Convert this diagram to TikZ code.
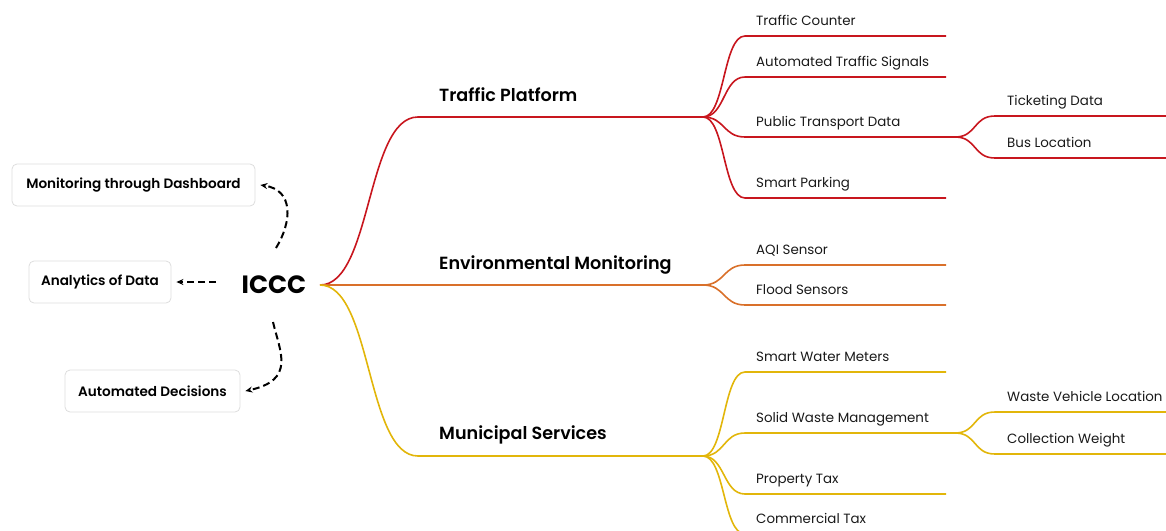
\documentclass[tikz,border=0pt]{standalone}
\usepackage{fontspec}
\setmainfont{Poppins}
\newfontfamily\semifont{Poppins SemiBold}
\usepackage{tikz}
\usetikzlibrary{arrows.meta}
\definecolor{trafred}{HTML}{C8161E}
\definecolor{envorange}{HTML}{D9702A}
\definecolor{muniyellow}{HTML}{E2B60A}
\definecolor{boxgray}{HTML}{DDDDDD}

\begin{document}
\begin{tikzpicture}[x=1pt,y=-1pt,
    branch/.style={line width=1.6pt},
    leaf/.style={anchor=base west,inner sep=0pt,text=black!90,font=\fontsize{13.4}{15}\selectfont},
    topic/.style={anchor=base west,inner sep=0pt,font=\semifont\fontsize{17.6}{20}\selectfont},
    usebox/.style={draw=boxgray,rounded corners=5pt,line width=0.8pt,minimum height=42pt,font=\semifont\fontsize{13.6}{15}\selectfont},
    dasharrow/.style={-{Stealth[length=7pt,width=6pt]},line width=2pt,dash pattern=on 7pt off 4pt}]
    \useasboundingbox (0,0) rectangle (1166,530);

    % Centre and its outputs
    \node[font=\bfseries\fontsize{25}{29}\selectfont] (iccc) at (274,285) {ICCC};
    \node[usebox,minimum width=243pt] (dash) at (133.5,185) {Monitoring through Dashboard};
    \node[usebox,minimum width=142pt] (analytics) at (100,282) {Analytics of Data};
    \node[usebox,minimum width=175pt] (decisions) at (152.5,391) {Automated Decisions};

    \coordinate (up) at (276,248);
    \coordinate (left) at (216,282);
    \coordinate (down) at (273,322);
    \draw[dasharrow] (up) .. controls (292,222) and (294,190) .. ([xshift=5pt]dash.east);
    \draw[dasharrow] (left) -- ([xshift=5pt]analytics.east);
    \draw[dasharrow] (down) .. controls (280,352) and (296,380) .. ([xshift=5pt]decisions.east);

    % Main branches
    \coordinate (root) at (320,285);
    \coordinate (tpBend) at (418,117);
    \coordinate (tpHub) at (703,117);
    \coordinate (emHub) at (703,285);
    \coordinate (msBend) at (418,456);
    \coordinate (msHub) at (703,456);
    \draw[branch,trafred] (root) .. controls (372,285) and (366,117) .. (tpBend) -- (tpHub);
    \draw[branch,envorange] (root) -- (emHub);
    \draw[branch,muniyellow] (root) .. controls (372,285) and (366,456) .. (msBend) -- (msHub);
    \node[topic] (tp) at (439,101) {Traffic Platform};
    \node[topic] (em) at (439,269) {Environmental Monitoring};
    \node[topic] (ms) at (439,439) {Municipal Services};

    % Traffic Platform
    \coordinate (tc1) at (745,36);  \coordinate (tc2) at (946,36);
    \coordinate (ats1) at (745,77); \coordinate (ats2) at (946,77);
    \coordinate (ptd1) at (745,137); \coordinate (ptd2) at (955,137);
    \coordinate (sp1) at (745,198); \coordinate (sp2) at (946,198);
    \draw[branch,trafred] (tpHub) .. controls +(22,0) and +(-22,0) .. (tc1) -- (tc2);
    \draw[branch,trafred] (tpHub) .. controls +(22,0) and +(-22,0) .. (ats1) -- (ats2);
    \draw[branch,trafred] (tpHub) .. controls +(22,0) and +(-22,0) .. (ptd1) -- (ptd2);
    \draw[branch,trafred] (tpHub) .. controls +(22,0) and +(-22,0) .. (sp1) -- (sp2);
    \node[leaf] (tc) at (756,25) {Traffic Counter};
    \node[leaf] (ats) at (756,66) {Automated Traffic Signals};
    \node[leaf] (ptd) at (756,126) {Public Transport Data};
    \node[leaf] (sp) at (756,187) {Smart Parking};

    \coordinate (td1) at (995,116); \coordinate (td2) at (1166,116);
    \coordinate (bl1) at (995,158); \coordinate (bl2) at (1166,158);
    \draw[branch,trafred] (ptd2) .. controls +(22,0) and +(-22,0) .. (td1) -- (td2);
    \draw[branch,trafred] (ptd2) .. controls +(22,0) and +(-22,0) .. (bl1) -- (bl2);
    \node[leaf] (td) at (1007,105) {Ticketing Data};
    \node[leaf] (bl) at (1007,147) {Bus Location};

    % Environmental Monitoring
    \coordinate (aqi1) at (745,265); \coordinate (aqi2) at (946,265);
    \coordinate (fs1) at (745,305); \coordinate (fs2) at (946,305);
    \draw[branch,envorange] (emHub) .. controls +(22,0) and +(-22,0) .. (aqi1) -- (aqi2);
    \draw[branch,envorange] (emHub) .. controls +(22,0) and +(-22,0) .. (fs1) -- (fs2);
    \node[leaf] (aqi) at (756,254) {AQI Sensor};
    \node[leaf] (fs) at (756,294) {Flood Sensors};

    % Municipal Services
    \coordinate (swm1) at (745,372); \coordinate (swm2) at (946,372);
    \coordinate (sw1) at (745,433); \coordinate (sw2) at (955,433);
    \coordinate (pt1) at (745,494); \coordinate (pt2) at (946,494);
    \coordinate (ct1) at (745,534); \coordinate (ct2) at (946,534);
    \draw[branch,muniyellow] (msHub) .. controls +(22,0) and +(-22,0) .. (swm1) -- (swm2);
    \draw[branch,muniyellow] (msHub) .. controls +(22,0) and +(-22,0) .. (sw1) -- (sw2);
    \draw[branch,muniyellow] (msHub) .. controls +(22,0) and +(-22,0) .. (pt1) -- (pt2);
    \draw[branch,muniyellow] (msHub) .. controls +(22,0) and +(-22,0) .. (ct1) -- (ct2);
    \node[leaf] (swm) at (756,361) {Smart Water Meters};
    \node[leaf] (sw) at (756,422) {Solid Waste Management};
    \node[leaf] (pt) at (756,483) {Property Tax};
    \node[leaf] (ct) at (756,523) {Commercial Tax};

    \coordinate (wvl1) at (995,412); \coordinate (wvl2) at (1166,412);
    \coordinate (cw1) at (995,454); \coordinate (cw2) at (1166,454);
    \draw[branch,muniyellow] (sw2) .. controls +(22,0) and +(-22,0) .. (wvl1) -- (wvl2);
    \draw[branch,muniyellow] (sw2) .. controls +(22,0) and +(-22,0) .. (cw1) -- (cw2);
    \node[leaf] (wvl) at (1007,401) {Waste Vehicle Location};
    \node[leaf] (cw) at (1007,443) {Collection Weight};
\end{tikzpicture}
\end{document}
